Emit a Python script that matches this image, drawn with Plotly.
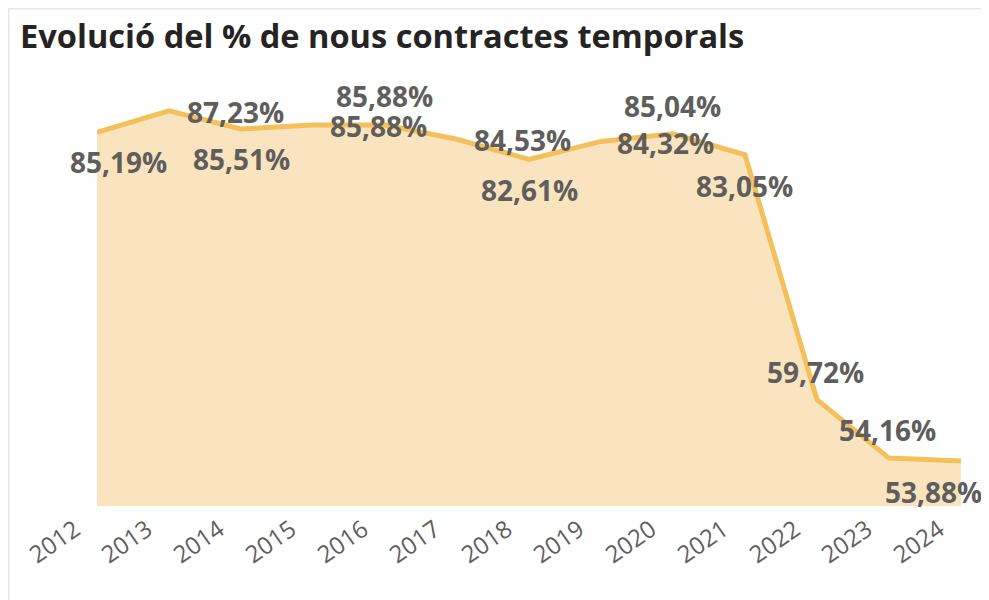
import plotly.graph_objects as go

years = ["2012", "2013", "2014", "2015", "2016", "2017", "2018",
         "2019", "2020", "2021", "2022", "2023", "2024"]
pct = [85.19, 87.23, 85.51, 85.88, 85.88, 84.53, 82.61,
       84.32, 85.04, 83.05, 59.72, 54.16, 53.88]
labels = ["85,19%", "87,23%", "85,51%", "85,88%", "85,88%", "84,53%", "82,61%",
          "84,32%", "85,04%", "83,05%", "59,72%", "54,16%", "53,88%"]
title = "Evolució del % de nous contractes temporals"

# label placement offsets (px) relative to each point
lab_dx = [21, 66, 0, 65, -1, 65, 0, 64, -1, -1, -2, -2, -28]
lab_dy = [-30, -1, -30, -1, 29, -1, -31, -2, 28, -31, 28, 28, -31]

# page body adds an 8px offset; figure coordinates = reference - 8
W, H = 981, 592
ML, MR, MT, MB = 89, 28, 78, 94

fig = go.Figure()
fig.add_trace(go.Scatter(
    x=years, y=pct, mode="lines",
    line=dict(color="#F4C05C", width=5),
    fill="tozeroy", fillcolor="#FAE4BF",
    hoverinfo="skip",
))

annots = []
for i in range(len(years)):
    annots.append(dict(
        xref="x", yref="y", x=i, y=pct[i],
        text="<b>" + labels[i] + "</b>", showarrow=False,
        xanchor="center", yanchor="middle",
        xshift=lab_dx[i], yshift=lab_dy[i],
        font=dict(family="Open Sans", size=28, color="#605E5C"),
    ))

fig.update_layout(
    width=W, height=H,
    margin=dict(l=ML, r=MR, t=MT, b=MB),
    paper_bgcolor="white", plot_bgcolor="white",
    showlegend=False,
    annotations=annots,
    title=dict(text="<b>" + title + "</b>", x=12 / W, xanchor="left",
               xref="container", yref="container", y=1 - 29 / H, yanchor="middle",
               font=dict(family="Open Sans", size=32.6, color="#252423")),
    xaxis=dict(type="category", range=[0, 12], showgrid=False, zeroline=False,
               showline=False, ticks="", tickangle=-35,
               tickfont=dict(family="Open Sans", size=24, color="#605E5C"),
               ticklabelshift=-22, ticklabelstandoff=4),
    yaxis=dict(range=[49.6, 89.6], showticklabels=False, showgrid=False,
               zeroline=False, showline=False, ticks=""),
)

# frame lines (top and left) at the paper edges
pw = W - ML - MR
ph = H - MT - MB
fig.add_shape(type="line", xref="paper", yref="paper",
              x0=-ML / pw, x1=(W - ML) / pw, y0=(ph + MT - 0.5) / ph, y1=(ph + MT - 0.5) / ph,
              line=dict(color="#E6E6E6", width=2))
fig.add_shape(type="line", xref="paper", yref="paper",
              x0=-(ML - 0.5) / pw, x1=-(ML - 0.5) / pw, y0=-MB / ph, y1=(ph + MT) / ph,
              line=dict(color="#E6E6E6", width=2))

fig.write_html("out.html")
